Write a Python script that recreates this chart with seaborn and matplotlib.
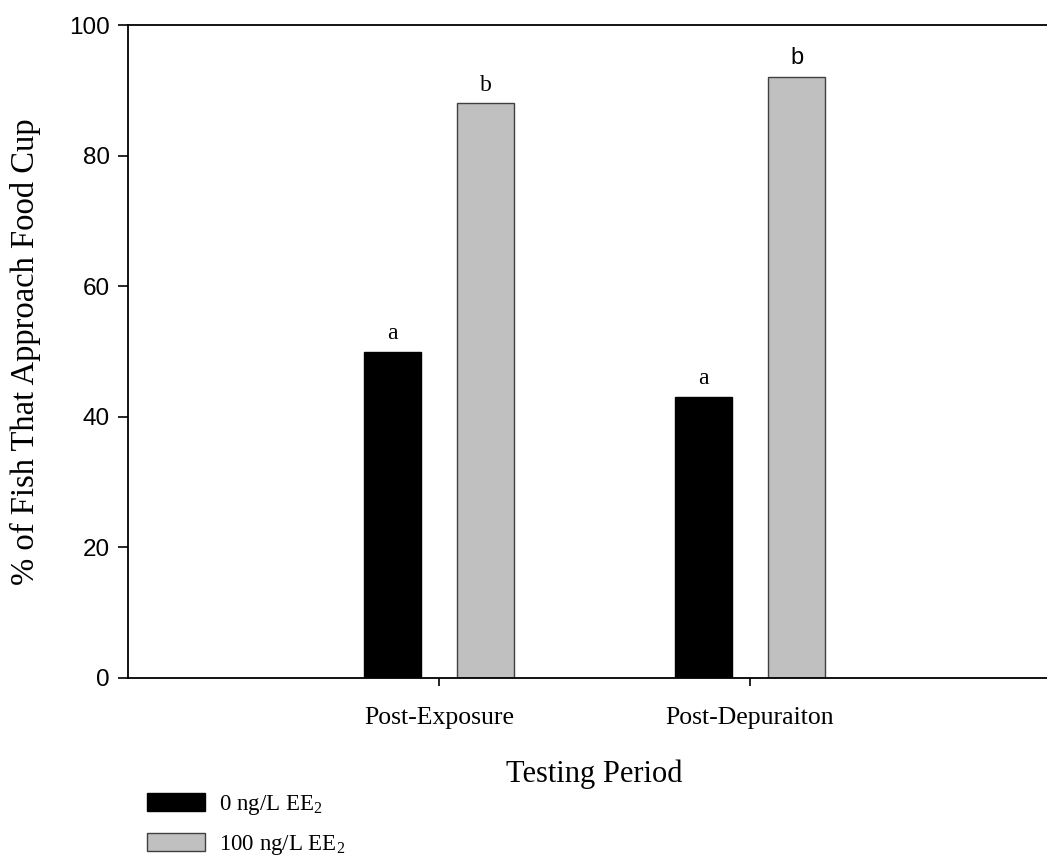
import matplotlib
matplotlib.use("Agg")
import matplotlib.pyplot as plt
import seaborn as sns
import pandas as pd
from matplotlib.patches import Patch

periods = ["Post-Exposure", "Post-Depuraiton"]
treatments = ["0 ng/L EE$_2$", "100 ng/L EE$_2$"]
control_pct = [50, 43]
treated_pct = [88, 92]
letters_control = ["a", "a"]
letters_treated = ["b", "b"]
yticks = [0, 20, 40, 60, 80, 100]

df = pd.DataFrame({
    "period": periods * 2,
    "treatment": [treatments[0]] * 2 + [treatments[1]] * 2,
    "pct": control_pct + treated_pct,
})

sns.set_style("ticks")
plt.rcParams["mathtext.default"] = "regular"
plt.rcParams["text.color"] = "black"
plt.rcParams["axes.labelcolor"] = "black"
plt.rcParams["xtick.color"] = "black"
plt.rcParams["ytick.color"] = "black"
serif = ["Liberation Serif", "DejaVu Serif"]
sans = ["Liberation Sans", "DejaVu Sans"]

fig = plt.figure(figsize=(10.47, 8.61), dpi=100)
ax = fig.add_axes([128 / 1047, 183 / 861, 933 / 1047, 653 / 861])

fills = ["#000000", "#c0c0c0"]
edges = ["#000000", "#404040"]
sns.barplot(data=df, x="period", y="pct", hue="treatment", palette=fills,
            width=0.6, gap=0.39, ax=ax, legend=False, linewidth=1.0,
            edgecolor="#000000")

letter_sets = [letters_control, letters_treated]
for ci, cont in enumerate(ax.containers):
    for bi, bar in enumerate(cont):
        bar.set_edgecolor(edges[ci])
        bar.set_linewidth(1.0)
        fam = sans if (ci == 1 and bi == 1) else serif
        ax.text(bar.get_x() + bar.get_width() / 2, bar.get_height() + 1.2,
                letter_sets[ci][bi], ha="center", va="bottom",
                fontsize=17, family=fam, color="black")

ax.set_xlim(-1, 2)
ax.set_ylim(0, 100)
ax.set_yticks(yticks)
ax.set_yticklabels([str(t) for t in yticks], family=sans, fontsize=17.5)
for lab in ax.get_xticklabels():
    lab.set_family(serif)
    lab.set_fontsize(18.5)

ax.set_xlabel("Testing Period", family=serif, fontsize=22, labelpad=22)
ax.set_ylabel("% of Fish That Approach Food Cup", family=serif, fontsize=23.5,
              labelpad=20)

for s in ["left", "bottom", "top"]:
    ax.spines[s].set_visible(True)
    ax.spines[s].set_linewidth(1.3)
    ax.spines[s].set_color("black")
ax.spines["right"].set_visible(False)
ax.tick_params(axis="y", direction="out", length=7, width=1.2, pad=6, left=True)
ax.tick_params(axis="x", direction="out", length=6, width=1.2, pad=15, bottom=True)

handles = [Patch(facecolor=fills[i], edgecolor=edges[i], linewidth=1.0)
           for i in range(2)]
leg = fig.legend(handles, treatments, loc="upper left",
                 bbox_to_anchor=(147 / 1047, 1 - 793 / 861),
                 frameon=False, borderpad=0, borderaxespad=0,
                 handlelength=2.55, handleheight=0.82, handletextpad=0.6,
                 labelspacing=0.7, prop={"family": serif, "size": 16.5})

fig.savefig("out.png", dpi=100)
